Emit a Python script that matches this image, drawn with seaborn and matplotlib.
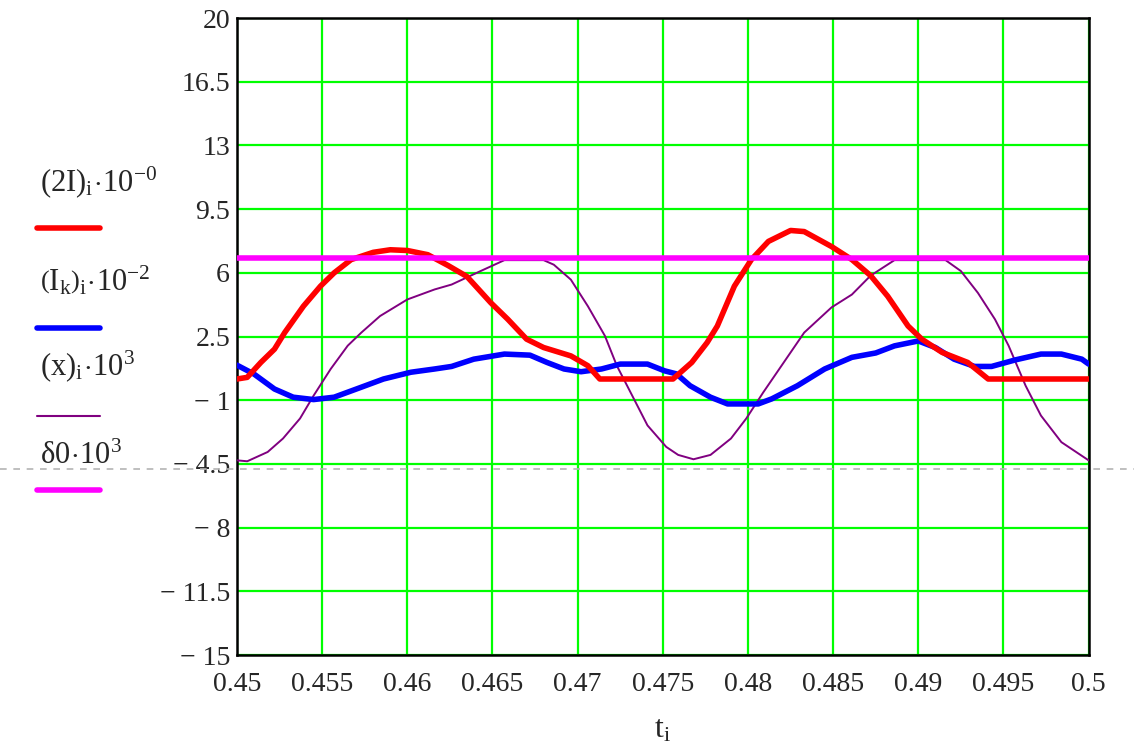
# Mathcad style trace: currents, displacement and gap vs time
import numpy as np
import pandas as pd
import matplotlib
matplotlib.use("Agg")
import matplotlib.pyplot as plt
import matplotlib.transforms as mtransforms
import seaborn as sns

# ------------------------------
# data
# ------------------------------
t_2I = [0.4500, 0.4506, 0.4514, 0.4522, 0.4528, 0.4539, 0.4549, 0.4557, 0.4567,
        0.4580, 0.4590, 0.4600, 0.4612, 0.4624, 0.4635, 0.4649, 0.4659, 0.4670,
        0.4680, 0.4696, 0.4706, 0.4713, 0.4756, 0.4767, 0.4776, 0.4782, 0.4792,
        0.4802, 0.4812, 0.4825, 0.4833, 0.4849, 0.4861, 0.4872, 0.4882, 0.4894,
        0.4902, 0.4914, 0.4929, 0.4941, 0.5000]
v_2I = [0.17, 0.26, 1.08, 1.81, 2.72, 4.17, 5.27, 6.0, 6.73,
        7.13, 7.27, 7.23, 7.0, 6.4, 5.8, 4.36, 3.45, 2.36,
        1.9, 1.44, 0.9, 0.17, 0.17, 1.08, 2.17, 3.08, 5.27,
        6.73, 7.73, 8.33, 8.27, 7.45, 6.73, 5.85, 4.72, 3.08,
        2.36, 1.63, 1.08, 0.17, 0.17]

t_Ik = [0.4500, 0.4510, 0.4522, 0.4533, 0.4545, 0.4557, 0.4573, 0.4586, 0.4602,
        0.4616, 0.4626, 0.4639, 0.4657, 0.4672, 0.4682, 0.4692, 0.4702, 0.4714,
        0.4725, 0.4741, 0.4751, 0.4758, 0.4766, 0.4778, 0.4788, 0.4806, 0.4814,
        0.4829, 0.4845, 0.4861, 0.4875, 0.4886, 0.4900, 0.4910, 0.4921, 0.4933,
        0.4943, 0.4957, 0.4972, 0.4984, 0.4996, 0.5000]
v_Ik = [0.93, 0.44, -0.38, -0.83, -0.96, -0.83, -0.28, 0.17, 0.54,
        0.72, 0.86, 1.26, 1.54, 1.48, 1.08, 0.72, 0.57, 0.72,
        0.99, 0.99, 0.62, 0.45, -0.2, -0.83, -1.2, -1.2, -0.92,
        -0.2, 0.72, 1.36, 1.6, 1.99, 2.26, 1.9, 1.26, 0.86,
        0.86, 1.22, 1.54, 1.54, 1.26, 0.99]

t_x = [0.4500, 0.4506, 0.4518, 0.4527, 0.4537, 0.4545, 0.4555, 0.4565, 0.4573,
       0.4584, 0.4600, 0.4616, 0.4626, 0.4643, 0.4657, 0.4680, 0.4686, 0.4696,
       0.4706, 0.4716, 0.4723, 0.4733, 0.4741, 0.4752, 0.4759, 0.4768, 0.4778,
       0.4790, 0.4799, 0.4809, 0.4821, 0.4833, 0.4849, 0.4861, 0.4872, 0.4886,
       0.4916, 0.4925, 0.4935, 0.4945, 0.4953, 0.4963, 0.4972, 0.4984, 0.5000]
v_x = [-4.3, -4.35, -3.84, -3.1, -2.0, -0.74, 0.72, 2.0, 2.72,
       3.63, 4.54, 5.09, 5.36, 6.1, 6.7, 6.7, 6.45, 5.63,
       4.17, 2.54, 0.9, -0.92, -2.38, -3.56, -4.0, -4.24, -4.0,
       -3.1, -2.0, -0.56, 1.08, 2.72, 4.1, 4.81, 5.85, 6.7,
       6.7, 6.1, 4.9, 3.45, 2.0, -0.2, -1.84, -3.3, -4.3]

delta0 = 6.8
t_range = [0.45, 0.5]
marker_y = -4.75

x_ticks = [0.45, 0.455, 0.46, 0.465, 0.47, 0.475, 0.48, 0.485, 0.49, 0.495, 0.5]
x_labels = ["0.45", "0.455", "0.46", "0.465", "0.47", "0.475", "0.48", "0.485",
            "0.49", "0.495", "0.5"]
y_ticks = [20, 16.5, 13, 9.5, 6, 2.5, -1, -4.5, -8, -11.5, -15]
y_labels = ["20", "16.5", "13", "9.5", "6", "2.5", "\u2212 1", "\u2212 4.5",
            "\u2212 8", "\u2212 11.5", "\u2212 15"]

legend_texts = [r"$(2\mathrm{I})_{\mathrm{i}}\!\cdot\!10^{-0}$",
                r"$\left(\mathrm{I}_{\mathrm{k}}\right)_{\mathrm{i}}\!\cdot\!10^{-2}$",
                r"$(\mathrm{x})_{\mathrm{i}}\!\cdot\!10^{3}$",
                r"$\mathrm{\delta 0}\!\cdot\!10^{3}$"]
legend_colors = ["#ff0000", "#0000ff", "#800080", "#ff00ff"]

# ------------------------------
# style
# ------------------------------
sns.set_style("white")
plt.rcParams["font.family"] = ["Liberation Serif", "DejaVu Serif"]
plt.rcParams["mathtext.fontset"] = "custom"
plt.rcParams["mathtext.rm"] = "Liberation Serif"
plt.rcParams["mathtext.it"] = "Liberation Serif"

fig = plt.figure(figsize=(11.34, 7.53), dpi=100)
ax = fig.add_axes([0.209, 0.130, 0.751, 0.846])

df_2I = pd.DataFrame({"t": t_2I, "v": v_2I})
df_Ik = pd.DataFrame({"t": t_Ik, "v": v_Ik})
df_x = pd.DataFrame({"t": t_x, "v": v_x})
df_d = pd.DataFrame({"t": t_range, "v": [delta0, delta0]})

sns.lineplot(data=df_x, x="t", y="v", ax=ax, color="#800080", lw=1.4, zorder=3)
sns.lineplot(data=df_Ik, x="t", y="v", ax=ax, color="#0000ff", lw=4.0, zorder=4)
sns.lineplot(data=df_2I, x="t", y="v", ax=ax, color="#ff0000", lw=4.0, zorder=5)
sns.lineplot(data=df_d, x="t", y="v", ax=ax, color="#ff00ff", lw=4.0, zorder=6)

ax.set_xlim(0.45, 0.5)
ax.set_ylim(-15, 20)
ax.set_xticks(x_ticks)
ax.set_xticklabels(x_labels, fontsize=20)
ax.set_yticks(y_ticks)
ax.set_yticklabels(y_labels, fontsize=20)
ax.tick_params(axis="x", length=0, pad=12)
ax.tick_params(axis="y", length=0, pad=5)
ax.grid(True, color="#00ff00", lw=1.6, zorder=1)
ax.set_axisbelow(True)
for s in ax.spines.values():
    s.set_color("black")
    s.set_linewidth(1.8)
ax.set_xlabel("")
ax.set_ylabel("")

# x label t_i
fig.text(0.584, 0.02, r"$\mathrm{t_{i}}$", fontsize=23, ha="center")

# dashed marker line, runs across the whole figure width
trans = mtransforms.blended_transform_factory(fig.transFigure, ax.transData)
fig.add_artist(plt.Line2D([0.0, 1.0], [marker_y, marker_y], color="#b4b4b4",
                          lw=1.2, ls=(0, (4, 4)), transform=trans, zorder=0.5))

# legend block on the left
text_y = [0.735, 0.605, 0.49, 0.375]
line_y = [0.697, 0.564, 0.448, 0.349]
for txt, col, ty, ly in zip(legend_texts, legend_colors, text_y, line_y):
    fig.text(0.035, ty, txt, fontsize=22, ha="left", va="bottom")
    lw = 1.5 if col == "#800080" else 4.0
    fig.add_artist(plt.Line2D([0.033, 0.088], [ly, ly], color=col, lw=lw,
                              transform=fig.transFigure))

fig.savefig("out.png", dpi=100)
